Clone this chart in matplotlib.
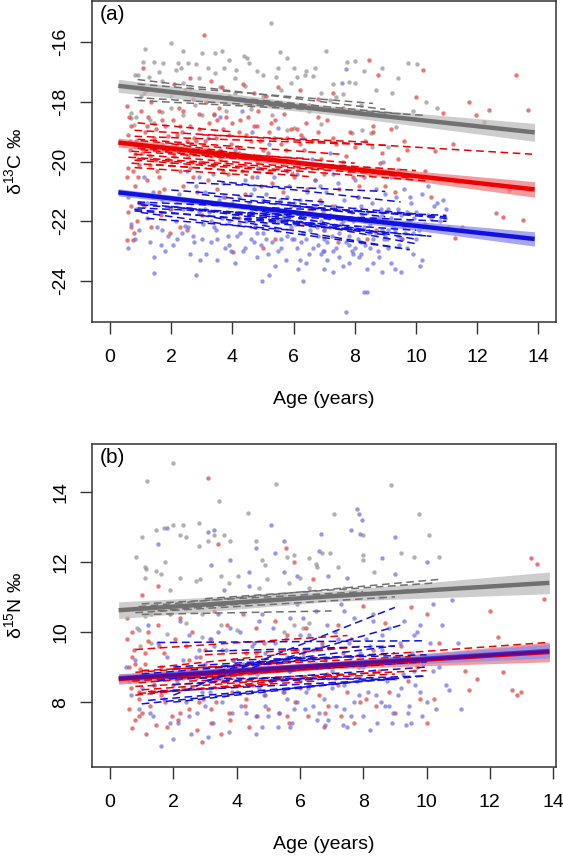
import numpy as np
import matplotlib
matplotlib.use("Agg")
import matplotlib.pyplot as plt

plt.rcParams['font.family'] = ['Liberation Sans', 'DejaVu Sans']
plt.rcParams['mathtext.fontset'] = 'custom'
plt.rcParams['mathtext.rm'] = 'Liberation Sans'
plt.rcParams['mathtext.it'] = 'Liberation Sans'
plt.rcParams['axes.unicode_minus'] = False

# ---------------- Panel (a): delta13C ----------------
gray_a = [(5.25,-15.36),(1.99,-16.03),(1.15,-16.23),(2.38,-16.29),(3.02,-16.35),(3.66,-16.29),(3.43,-16.37),
          (4.37,-16.46),(4.48,-16.54),(5.54,-16.34),(5.77,-16.54),(7.06,-16.29),(1.09,-16.65),(1.44,-16.65),
          (1.73,-16.68),(2.22,-16.70),(2.55,-16.68),(2.82,-16.73),(3.2,-16.87),(3.72,-16.85),(4.13,-16.93),
          (4.54,-16.70),(5.48,-16.87),(6.42,-16.98),(6.71,-16.85),(7.76,-16.65),(8.0,-16.63),(8.29,-16.98),
          (8.88,-16.87),(9.75,-16.70),(10.05,-16.73),(0.91,-17.09),(0.8,-17.09),(1.26,-17.15),(2.14,-16.93),
          (2.32,-16.87),(3.43,-17.04),(4.07,-17.21),(5.01,-17.09),(5.42,-17.15),(6.12,-17.15),(6.36,-17.09),
          (6.65,-17.13),(7.82,-17.32),(8.0,-17.37),(9.23,-17.71),(10.34,-17.99),(0.68,-18.38),(0.68,-18.55),
          (1.44,-18.7),(2.79,-18.1),(3.02,-18.44),(2.38,-18.44),(3.4,-18.45),(4.6,-18.05),(5.0,-17.85),
          (5.3,-18.45),(6.2,-18.2),(6.5,-18.3),(6.9,-18.2),(6.9,-18.75),(7.4,-17.85),(7.6,-17.75),(8.23,-18.94),
          (8.52,-19.05),(7.9,-19.05),(8.58,-19.5),(9.1,-19.5),(9.34,-18.83),(5.77,-18.94),(6.0,-18.88),
          (4.6,-18.25),(3.8,-18.3),(2.0,-18.2),(1.7,-18.35),(1.3,-18.6),(0.85,-18.5),(1.0,-17.8),(1.2,-17.6),
          (2.6,-17.55),(3.6,-17.5),(4.1,-17.7),(5.6,-17.6),(6.9,-17.7),(7.2,-17.95),(8.2,-18.1),(9.9,-18.3),
          (1.7,-17.3),(2.4,-17.35),(0.78,-18.77),
          (1.6,-17.0),(2.9,-17.2),(4.8,-16.95),(6.0,-16.85),(7.3,-17.4),(9.4,-17.2),(3.9,-16.6),(5.9,-17.35),
          (2.0,-17.8),(4.4,-17.45),(8.7,-17.6),(10.7,-18.2)]

red_a = [(0.55,-18.15),(0.62,-18.5),(0.7,-18.8),(0.58,-19.1),(0.85,-19.3),(0.66,-19.6),(0.9,-19.9),(0.6,-20.2),
         (0.75,-20.3),(0.55,-20.5),(0.82,-20.8),(0.68,-21.1),(0.95,-21.4),(0.6,-21.7),(0.88,-22.0),(0.7,-22.2),
         (0.78,-22.4),(0.56,-22.63),(0.74,-22.63),
         (1.09,-16.87),(1.12,-17.7),(1.35,-18.0),(1.6,-18.3),(1.25,-18.5),(1.8,-18.8),(1.15,-19.0),(1.45,-19.2),
         (1.7,-19.4),(1.05,-19.7),(1.9,-19.9),(1.3,-20.1),(1.55,-20.3),(1.2,-20.6),(1.75,-20.9),(1.4,-21.2),
         (1.1,-21.5),(1.65,-21.8),(1.35,-22.2),(1.95,-22.4),
         (2.1,-17.4),(2.45,-17.6),(2.7,-17.9),(2.25,-18.2),(2.9,-18.4),(2.05,-18.6),(2.6,-18.8),(2.35,-19.0),
         (2.8,-19.3),(2.15,-19.5),(2.55,-19.8),(2.95,-20.0),(2.3,-20.3),(2.7,-20.5),(2.4,-20.8),(2.85,-21.0),
         (2.2,-21.3),(2.65,-21.6),(2.3,-22.2),(2.5,-22.3),
         (3.08,-15.75),(3.3,-17.3),(3.65,-17.5),(3.9,-17.8),(3.15,-18.0),(3.55,-18.2),(3.8,-18.5),(3.25,-18.7),
         (3.7,-18.9),(3.45,-19.2),(3.95,-19.4),(3.1,-19.6),(3.6,-19.9),(3.35,-20.1),(3.85,-20.4),(3.2,-20.6),
         (3.5,-20.9),(3.75,-21.2),(4.02,-23.02),
         (4.35,-17.4),(4.1,-17.9),(4.6,-18.1),(4.85,-18.3),(4.25,-18.6),(4.7,-18.8),(4.45,-19.1),(4.9,-19.3),
         (4.15,-19.5),(4.55,-19.8),(4.8,-20.0),(4.3,-20.3),(4.65,-20.5),(4.95,-20.8),(4.4,-21.1),(4.75,-22.2),
         (5.0,-22.9),
         (5.1,-17.8),(5.45,-18.0),(5.7,-18.4),(5.25,-18.7),(5.9,-18.9),(5.35,-19.2),(5.6,-19.4),(5.15,-19.7),
         (5.8,-19.9),(5.5,-20.2),(5.95,-20.4),(5.3,-20.7),(5.65,-21.0),(5.85,-21.4),(5.4,-22.6),
         (6.2,-17.6),(6.5,-18.1),(6.8,-18.5),(6.1,-18.9),(6.6,-19.3),(6.35,-19.6),(6.9,-19.9),(6.15,-20.2),
         (6.7,-20.6),(6.45,-20.9),(6.85,-21.3),(6.3,-22.1),
         (7.3,-17.7),(7.6,-18.2),(7.1,-18.6),(7.85,-19.0),(7.4,-19.4),(7.7,-19.8),(7.2,-20.2),(7.95,-20.5),
         (7.5,-20.9),(7.25,-21.5),(7.45,-22.7),
         (8.47,-16.59),(8.76,-17.09),(8.2,-18.3),(8.6,-18.8),(8.35,-19.3),(8.9,-19.7),(8.82,-20.06),(8.5,-20.4),
         (8.15,-20.8),(8.7,-22.3),
         (9.99,-17.82),(9.2,-18.9),(9.6,-19.3),(9.4,-19.9),(9.4,-20.28),(9.8,-20.5),(9.3,-21.0),(9.55,-22.6),
         (10.22,-16.93),(10.87,-18.38),(10.63,-19.66),(10.3,-20.3),(10.5,-21.2),
         (11.74,-17.99),(11.98,-18.44),(12.39,-18.27),(12.21,-18.66),(13.68,-18.27),(13.27,-17.09),
         (13.03,-20.95),(12.62,-21.73),(12.86,-21.84),(13.5,-21.96),(11.28,-22.57),(11.51,-22.18),(11.2,-19.4),
         (1.5,-18.9),(1.85,-19.6),(2.2,-19.1),(2.75,-19.2),(3.4,-18.4),(3.0,-19.7),(1.3,-19.8),(2.4,-18.3),
         (3.7,-20.3),(4.2,-19.0),(1.0,-18.3),(2.0,-20.0),(4.5,-18.5),(5.2,-19.0),(5.75,-19.6),(6.25,-19.1),
         (2.6,-20.2),(1.6,-20.5),(3.9,-19.1),(0.9,-20.5),
         (0.65,-19.3),(0.8,-19.75),(0.95,-20.1),(1.2,-18.8),(1.4,-19.5),(1.5,-19.95),(1.7,-18.6),(1.9,-19.15),
         (2.1,-19.8),(2.3,-18.8),(2.5,-19.3),(2.7,-20.0),(2.9,-18.9),(3.1,-19.3),(3.3,-19.8),(3.5,-18.6),
         (3.6,-19.6),(3.8,-20.0),(4.0,-18.7),(4.2,-19.7),(4.4,-20.1),(4.6,-19.3),(4.8,-18.8),(5.0,-19.6),
         (5.2,-20.3),(5.4,-18.6),(5.6,-20.0),(5.8,-19.2),(6.0,-20.5),(6.2,-19.4),(6.4,-18.7),(6.6,-20.2),
         (6.8,-19.0),(7.0,-20.4),(7.3,-19.2),(7.6,-20.0),(8.0,-19.5),(8.3,-20.2),(8.6,-19.0),(9.0,-20.8),
         (9.7,-19.6),(2.0,-21.6),(3.0,-21.8),(4.2,-21.9),(5.5,-21.7),(6.5,-21.6),(7.0,-22.3),(8.1,-21.2),
         (1.0,-17.5),(2.6,-17.2),(4.7,-17.7),(5.5,-17.5),(6.8,-17.9),(1.6,-21.0),(0.7,-21.5),(8.4,-22.6)]

blue_a = [(0.6,-21.2),(0.85,-21.6),(0.7,-22.1),(0.95,-22.3),(0.6,-22.9),(0.8,-22.6),
          (1.1,-20.5),(1.4,-21.0),(1.7,-21.3),(1.2,-21.9),(1.55,-22.2),(1.9,-22.5),(1.3,-22.7),(1.65,-22.8),
          (1.8,-23.0),(1.45,-23.2),(1.44,-23.74),(1.95,-21.6),
          (2.1,-19.6),(2.5,-20.3),(2.8,-20.8),(2.25,-21.1),(2.65,-21.4),(2.9,-21.7),(2.15,-22.0),(2.55,-22.2),
          (2.35,-22.4),(2.75,-22.7),(2.05,-22.8),(2.6,-23.1),(2.95,-23.3),(2.82,-23.8),(2.45,-22.15),
          (3.6,-18.5),(3.2,-19.2),(3.8,-19.8),(3.35,-20.4),(3.7,-20.7),(3.1,-21.0),(3.55,-21.3),(3.9,-21.5),
          (3.25,-21.7),(3.65,-21.9),(3.05,-22.1),(3.45,-22.3),(3.85,-22.5),(3.3,-22.7),(3.75,-22.9),(3.15,-23.1),
          (3.5,-23.3),(3.95,-23.0),(3.4,-22.2),
          (4.3,-18.3),(4.65,-19.0),(4.1,-19.6),(4.85,-20.2),(4.4,-20.6),(4.7,-20.9),(4.2,-21.2),(4.55,-21.4),
          (4.9,-21.6),(4.05,-21.8),(4.45,-22.0),(4.75,-22.2),(4.25,-22.4),(4.6,-22.6),(4.95,-22.8),(4.35,-23.0),
          (4.8,-23.2),(4.15,-22.5),(4.5,-21.9),(4.7,-22.7),
          (5.48,-18.88),(5.2,-19.4),(5.7,-20.0),(5.35,-20.5),(5.85,-20.8),(5.1,-21.1),(5.55,-21.3),(5.9,-21.5),
          (5.25,-21.7),(5.65,-21.9),(5.05,-22.1),(5.45,-22.3),(5.8,-22.5),(5.3,-22.7),(5.6,-22.9),(5.15,-23.1),
          (5.75,-23.3),(5.4,-23.5),(4.98,-24.0),(5.95,-22.6),(5.5,-22.0),(5.2,-21.6),
          (6.3,-19.2),(6.6,-19.9),(6.1,-20.4),(6.85,-20.8),(6.45,-21.0),(6.2,-21.3),(6.7,-21.5),(6.95,-21.7),
          (6.35,-21.9),(6.05,-22.1),(6.55,-22.3),(6.8,-22.5),(6.25,-22.7),(6.65,-22.9),(6.9,-23.1),(6.4,-23.4),
          (6.15,-23.6),(6.3,-24.0),(6.75,-22.2),(6.5,-21.8),(6.0,-22.6),(6.95,-23.0),
          (7.59,-17.37),(7.7,-16.9),(7.2,-19.7),(7.8,-20.3),(7.45,-20.7),(7.05,-21.0),(7.65,-21.3),(7.35,-21.5),
          (7.9,-21.7),(7.15,-21.9),(7.55,-22.1),(7.85,-22.3),(7.25,-22.5),(7.7,-22.7),(7.4,-22.9),(7.95,-23.1),
          (7.1,-23.3),(7.6,-23.5),(7.3,-23.7),(7.72,-25.03),(7.5,-22.4),(7.8,-22.8),(7.0,-23.0),
          (8.93,-20.0),(8.3,-20.5),(8.7,-20.9),(8.1,-21.2),(8.55,-21.4),(8.85,-21.6),(8.25,-21.8),(8.65,-22.0),
          (8.05,-22.2),(8.45,-22.4),(8.95,-22.6),(8.35,-22.8),(8.75,-23.0),(8.15,-23.2),(8.6,-23.4),(8.9,-23.7),
          (8.3,-24.36),(8.4,-24.36),(8.5,-22.1),(8.2,-22.7),(8.8,-21.9),
          (9.2,-20.5),(9.6,-20.9),(9.35,-21.2),(9.85,-21.4),(9.1,-21.6),(9.5,-21.8),(9.75,-22.0),(9.25,-22.2),
          (9.65,-22.4),(9.05,-22.6),(9.45,-22.8),(9.9,-23.1),(9.3,-23.6),(9.55,-22.1),(9.95,-21.9),
          (10.2,-21.1),(10.6,-21.5),(10.4,-21.8),(10.8,-22.0),(10.1,-22.3),(10.2,-23.3),(10.15,-23.5),
          (11.0,-21.6),(10.95,-21.9),(11.05,-22.2),
          (4.6,-21.1),(5.8,-21.2),(6.6,-22.0),(7.5,-21.6),(8.2,-21.5),(8.9,-22.3),(9.4,-22.5),(5.0,-22.4),
          (7.2,-22.2),(7.95,-22.0),(6.3,-22.4),(8.6,-22.6),(9.7,-21.7),(3.9,-22.0),(5.6,-22.6),(7.0,-22.6),
          (8.0,-22.9),(9.1,-22.3),(6.9,-22.0),(4.4,-21.5),
          (3.1,-21.6),(3.3,-22.0),(3.5,-22.6),(3.7,-21.2),(3.9,-22.8),(4.0,-21.4),(4.2,-22.1),(4.4,-22.9),
          (4.6,-21.7),(4.8,-22.4),(5.0,-21.3),(5.1,-22.6),(5.3,-22.0),(5.5,-23.0),(5.7,-21.8),(5.9,-22.2),
          (6.0,-21.4),(6.1,-22.9),(6.2,-21.9),(6.4,-22.6),(6.5,-23.1),(6.6,-21.6),(6.8,-22.8),(6.9,-21.4),
          (7.0,-22.3),(7.1,-22.7),(7.2,-21.8),(7.3,-23.0),(7.4,-22.2),(7.5,-23.2),(7.6,-22.0),(7.7,-21.9),
          (7.8,-22.5),(7.9,-23.0),(8.0,-21.6),(8.1,-22.6),(8.2,-23.1),(8.3,-22.2),(8.4,-21.7),(8.5,-22.9),
          (8.6,-21.9),(8.7,-22.4),(8.8,-23.2),(8.9,-21.8),(9.0,-22.5),(9.1,-22.9),(9.2,-21.9),(9.3,-22.3),
          (9.4,-21.6),(9.5,-22.6),(9.6,-22.2),(9.7,-22.9),(9.8,-22.0),(9.9,-22.4),(10.0,-21.7),(10.0,-22.6),
          (10.3,-22.1),(10.5,-21.9),(10.7,-21.4),(10.9,-21.3),(5.2,-23.8),(6.2,-23.3),(7.0,-23.6),(7.8,-23.4),
          (8.4,-23.6),(9.2,-23.4),(9.5,-23.7),(4.1,-23.4),(3.0,-22.6),(2.7,-22.5),(2.2,-22.6),(1.7,-22.3),
          (2.4,-21.6),(1.2,-21.4),(2.9,-20.5),(3.4,-20.1),(4.8,-20.5),(5.8,-20.3),(6.7,-20.6),(7.3,-20.4),
          (8.0,-20.6),(8.4,-20.2),(9.0,-21.1),(9.8,-21.2),(10.4,-20.8)]

# individual (dashed) fits: (x0, y0, x1, y1)
dash_gray_a = [(0.9,-17.25,9.0,-18.25),(0.9,-17.4,8.6,-18.05),(0.8,-17.85,10.3,-18.45),
               (0.9,-17.95,6.5,-18.25),(1.0,-17.6,7.0,-18.15),(3.0,-17.75,9.5,-18.4)]
dash_red_a = [(0.8,-18.95,13.8,-19.75),(0.8,-19.15,9.0,-19.45),(0.9,-19.25,7.5,-19.75),(0.7,-19.45,8.0,-20.05),
              (0.9,-19.55,6.5,-19.9),(0.7,-19.65,10.0,-20.3),(0.8,-19.75,7.0,-20.25),(0.6,-19.85,9.5,-20.45),
              (0.8,-19.95,6.0,-20.35),(0.7,-20.05,5.5,-20.4),(1.0,-19.3,4.5,-19.6),(2.0,-19.4,9.8,-20.55),
              (0.9,-19.9,10.4,-20.65),(1.5,-20.1,6.5,-20.5),(0.7,-19.4,4.0,-19.7),(1.0,-19.6,5.0,-19.95),
              (3.0,-19.1,8.5,-19.35),(0.8,-20.2,4.5,-20.45),(0.9,-18.7,4.0,-19.0)]
dash_blue_a = [(0.9,-21.35,11.0,-21.8),(0.9,-21.55,11.0,-22.0),(0.8,-21.65,10.0,-22.3),(1.0,-21.45,9.5,-22.1),
               (0.8,-21.6,10.5,-22.5),(2.0,-21.25,10.0,-22.2),(2.5,-20.7,9.0,-21.0),(3.5,-20.65,9.5,-21.35),
               (1.0,-21.7,9.5,-22.9),(2.0,-21.5,9.0,-22.45),(3.0,-21.3,10.0,-22.6),(1.5,-21.15,8.0,-21.9),
               (4.0,-21.5,10.5,-22.2),(3.0,-21.8,9.8,-22.95),(2.5,-21.55,8.5,-22.3),(4.0,-21.3,11.0,-21.9),
               (5.0,-21.3,10.0,-21.75),(0.9,-21.4,6.0,-21.9),(3.0,-21.1,9.0,-21.85),(1.2,-21.9,6.0,-22.3),
               (5.0,-21.8,10.0,-22.75),(2.0,-20.95,7.0,-21.35),(6.0,-21.5,11.0,-21.85),(4.5,-22.0,10.5,-22.5)]

# population fits: x, fitted values, band half-widths at those x
fit_x = [0.27, 7.0, 13.88]
fit_gray_a = [-17.46, -18.26, -19.02]
band_gray_a = [0.22, 0.14, 0.30]
fit_red_a = [-19.36, -20.14, -20.93]
band_red_a = [0.15, 0.10, 0.26]
fit_blue_a = [-21.03, -21.81, -22.59]
band_blue_a = [0.12, 0.08, 0.24]

# ---------------- Panel (b): delta15N ----------------
gray_b = [(2.0,14.83),(1.17,14.31),(5.23,14.21),(8.88,14.2),(3.44,13.73),(4.35,13.4),(7.07,13.37),(9.76,13.37),
          (10.07,12.76),(0.81,12.14),(1.44,12.9),(1.0,12.7),(1.7,12.95),(2.0,13.05),(2.3,13.05),(2.8,13.1),
          (2.2,12.75),(2.4,12.7),(2.8,12.45),(3.1,12.6),(3.3,12.75),(3.6,12.75),(3.8,12.6),(4.6,12.6),(4.8,12.05),
          (4.9,11.9),(5.6,12.15),(5.8,12.2),(6.3,12.1),(6.5,11.95),(6.7,12.25),(6.95,12.25),(7.2,11.85),(8.0,12.75),
          (8.0,12.2),(8.0,12.05),(8.35,11.7),(9.2,12.25),(9.6,12.15),(10.4,12.15),
          (1.1,11.85),(1.15,11.8),(1.1,11.55),(1.45,11.75),(1.6,11.65),(1.75,12.0),(1.9,11.2),(2.7,11.45),
          (2.85,11.5),(2.2,11.55),(3.5,11.6),(3.75,11.4),(4.05,11.6),(4.7,11.25),(4.95,11.5),(5.5,11.05),
          (5.65,11.4),(6.0,11.55),(6.3,11.25),(6.55,11.85),(7.4,11.25),
          (0.85,10.1),(0.9,10.05),(1.1,10.45),(1.8,9.95),(2.4,10.25),(2.9,10.5),(2.9,9.85),(3.5,10.2),(4.0,10.05),
          (5.5,10.0),(5.8,10.2),(6.1,10.1),(6.3,10.25),(1.3,9.7),(0.95,9.6),(4.5,10.9),(7.8,11.1),(8.6,11.0)]

red_b = [(0.55,9.8),(0.7,9.3),(0.6,9.0),(0.85,8.7),(0.65,8.4),(0.9,8.1),(0.6,7.8),(0.8,7.5),(0.7,7.25),
         (0.95,8.95),(0.75,9.5),(0.9,7.6),
         (1.0,11.05),(1.3,10.5),(1.5,10.2),(1.2,9.75),(1.7,9.4),(1.1,9.1),(1.85,8.8),(1.4,8.5),(1.6,8.2),
         (1.25,7.9),(1.95,7.6),(1.45,7.35),(1.15,7.1),(1.75,8.0),(1.55,9.6),
         (2.2,10.4),(2.6,10.0),(2.4,9.6),(2.85,9.3),(2.1,9.0),(2.7,8.7),(2.3,8.4),(2.95,8.1),(2.5,7.8),
         (2.15,7.5),(2.75,7.2),(2.9,6.85),(2.45,8.9),(2.05,9.8),
         (3.1,14.4),(3.4,12.5),(3.3,10.6),(3.7,10.2),(3.15,9.8),(3.55,9.5),(3.9,9.2),(3.25,8.9),(3.6,8.6),
         (3.85,8.3),(3.35,8.0),(3.75,7.7),(3.2,7.4),(3.5,7.1),
         (4.2,10.5),(4.6,10.1),(4.85,9.7),(4.3,9.4),(4.7,9.1),(4.1,8.8),(4.5,8.5),(4.9,8.2),(4.25,7.9),
         (4.65,7.6),(4.4,7.3),(4.8,8.6),
         (5.55,12.4),(5.8,12.0),(5.2,10.3),(5.6,9.9),(5.9,9.5),(5.3,9.2),(5.7,8.9),(5.1,8.6),(5.5,8.3),
         (5.85,8.0),(5.35,7.7),(5.65,7.4),
         (6.4,11.5),(6.2,10.1),(6.7,9.7),(6.1,9.4),(6.5,9.1),(6.85,8.8),(6.3,8.5),(6.6,8.2),(6.9,7.9),
         (6.25,7.6),(6.75,7.3),
         (7.2,10.2),(7.6,9.8),(7.35,9.4),(7.85,9.0),(7.1,8.7),(7.5,8.3),(7.9,8.0),(7.3,7.6),(7.7,7.4),
         (8.0,10.75),(8.7,10.25),(8.3,9.5),(8.6,9.1),(8.2,8.7),(8.8,8.3),(8.4,7.9),
         (9.5,10.7),(10.0,10.5),(9.2,9.6),(9.7,9.0),(9.4,8.6),(9.8,8.1),(10.0,7.4),
         (13.3,12.1),(13.5,11.95),(13.7,10.95),(12.0,10.6),(12.25,9.85),(12.4,8.85),(12.7,8.35),(12.85,8.2),
         (13.0,8.3),(11.35,8.35),(11.6,8.65),(11.2,8.9),(10.4,9.7),(10.25,8.1),(0.55,10.4),
         (0.6,8.6),(0.8,9.1),(1.0,7.7),(1.3,8.3),(1.6,9.0),(1.8,7.3),(2.0,8.5),(2.2,7.7),(2.5,9.2),(2.8,8.0),
         (3.0,9.5),(3.2,7.8),(3.5,8.8),(3.8,7.5),(4.0,9.0),(4.3,8.1),(4.6,9.4),(5.0,7.8),(5.3,8.7),(5.6,7.6),
         (6.0,8.4),(6.4,9.3),(6.8,7.7),(7.2,8.5),(7.6,9.1),(8.1,8.1),(8.5,8.9),(9.0,7.7),(9.3,9.2),(1.2,10.0),
         (1.9,10.5),(2.9,10.8),(0.7,10.0),(1.5,11.3),(1.1,9.4),(0.9,8.3)]

blue_b = [(0.5,9.0),(0.8,8.6),(0.65,8.2),(0.9,7.8),
          (1.2,10.2),(1.5,9.7),(1.8,9.3),(1.1,8.9),(1.4,8.5),(1.7,8.1),(1.25,7.7),(1.9,7.4),(1.6,6.75),(1.35,7.6),
          (2.2,10.3),(2.5,9.9),(2.8,9.5),(2.3,9.2),(2.65,8.9),(2.1,8.6),(2.9,8.3),(2.4,8.0),(2.75,7.7),(2.15,7.4),
          (2.0,6.95),(2.55,7.1),(1.8,12.95),(1.5,12.5),
          (3.3,12.9),(3.1,12.85),(3.6,11.2),(3.4,10.5),(3.8,10.1),(3.2,9.8),(3.65,9.5),(3.9,9.2),(3.35,8.9),
          (3.7,8.6),(3.15,8.3),(3.55,8.0),(3.85,7.7),(3.25,7.4),(3.75,7.15),
          (3.8,12.05),(4.4,11.7),(4.3,10.8),(4.7,10.3),(4.1,10.0),(4.55,9.7),(4.9,9.4),(4.2,9.1),(4.65,8.8),
          (4.35,8.5),(4.85,8.2),(4.15,7.9),(4.6,7.6),(4.8,7.3),(4.6,12.4),
          (5.1,13.05),(5.2,12.25),(5.5,11.7),(5.9,11.6),(5.3,10.9),(5.7,10.4),(5.15,10.1),(5.55,9.8),(5.85,9.5),
          (5.25,9.2),(5.65,8.9),(5.05,8.6),(5.45,8.3),(5.9,8.0),(5.35,7.7),(5.75,7.4),(5.7,7.3),
          (6.65,12.8),(6.6,12.3),(6.2,11.1),(6.5,10.6),(6.85,10.2),(6.3,9.9),(6.7,9.6),(6.1,9.3),(6.45,9.0),
          (6.9,8.7),(6.25,8.4),(6.75,8.1),(6.15,7.8),(6.55,7.5),(6.8,7.35),
          (7.8,13.5),(7.85,13.35),(7.95,13.2),(7.9,12.8),(7.5,11.55),(7.3,10.8),(7.7,10.4),(7.1,10.0),(7.55,9.7),
          (7.9,9.4),(7.2,9.1),(7.65,8.8),(7.4,8.5),(7.85,8.2),(7.15,7.9),(7.6,7.6),(7.35,7.35),(8.2,7.2),
          (8.5,11.0),(8.3,10.5),(8.8,10.1),(8.1,9.8),(8.6,9.5),(8.9,9.2),(8.35,8.9),(8.75,8.6),(8.15,8.3),
          (8.55,8.0),(8.95,7.7),(8.45,7.4),
          (9.0,12.7),(9.0,11.65),(10.0,12.0),(9.3,10.3),(9.7,10.0),(9.15,9.7),(9.55,9.4),(9.9,9.1),(9.25,8.8),
          (9.65,8.5),(9.1,8.2),(9.45,7.9),(9.85,7.6),(9.35,7.35),
          (10.2,10.8),(10.5,10.2),(10.1,9.7),(10.4,9.0),(10.6,8.5),(10.7,8.35),(10.3,7.8),
          (11.0,9.7),(11.1,7.8),(10.8,10.9),
          (2.6,8.4),(3.0,9.1),(4.0,8.3),(5.0,9.0),(6.0,8.6),(7.0,8.9),(8.0,9.0),(9.0,8.7),(9.6,8.9),(4.9,7.9),
          (6.4,7.9),(8.7,7.9),(3.5,8.7),(7.7,8.0),(5.6,8.1),
          (2.3,8.7),(2.7,9.3),(3.0,7.9),(3.3,9.6),(3.6,8.2),(3.9,9.0),(4.1,8.6),(4.3,7.7),(4.5,9.6),(4.7,8.4),
          (5.0,7.6),(5.2,9.7),(5.4,8.7),(5.6,9.3),(5.8,7.8),(6.0,9.9),(6.2,8.3),(6.4,9.5),(6.6,7.7),(6.8,9.2),
          (7.0,8.4),(7.2,9.8),(7.4,7.8),(7.6,9.3),(7.8,8.6),(8.0,7.6),(8.2,9.6),(8.4,8.2),(8.6,9.9),(8.8,7.9),
          (9.0,9.3),(9.2,8.4),(9.4,7.7),(9.6,9.9),(9.8,8.3),(10.0,9.2),(10.0,8.0),(10.2,8.9),(9.5,7.4),(8.9,7.4),
          (7.5,7.3),(6.9,7.5),(5.3,7.3),(4.6,7.1),(3.1,7.0),(2.5,7.6),(1.3,8.3),(1.0,8.4),(0.8,9.2),(3.4,10.0),
          (4.8,10.5),(6.1,10.4),(7.4,10.6),(8.3,10.3),(9.8,10.2),(10.6,9.3),(5.9,10.8),(4.4,11.3),(6.9,11.6),
          (8.6,12.1),(3.2,11.9),(5.5,12.6),(7.6,12.9)]

dash_gray_b = [(0.9,10.72,10.4,11.5),(1.0,10.8,8.0,11.15),(0.8,10.55,9.0,11.0),(1.0,10.5,7.0,10.6),
               (3.0,10.95,10.3,11.4),(1.5,10.6,9.5,11.2)]
dash_red_b = [(0.8,9.5,7.5,9.9),(0.8,8.85,13.8,9.7),(0.7,8.6,10.0,9.15),(0.8,8.45,9.0,8.8),(0.9,8.25,5.0,8.5),
              (0.8,8.2,7.0,8.75),(1.0,8.7,6.0,8.9),(1.5,9.0,8.0,9.6),(2.0,8.95,9.5,9.3),(0.7,8.65,4.0,8.75),
              (1.0,8.35,8.5,8.85),(2.5,8.6,10.0,8.9),(1.0,8.9,5.5,9.1),(3.0,9.35,7.5,9.55),(0.9,8.55,12.0,9.35),
              (1.2,8.3,6.5,8.6)]
dash_blue_b = [(1.5,9.7,10.0,9.75),(2.0,8.2,9.0,10.7),(3.0,8.6,9.2,10.2),(1.0,7.95,9.0,8.7),(1.2,8.05,10.0,8.75),
               (1.5,8.3,9.0,8.65),(3.0,9.45,9.0,9.6),(2.0,9.0,9.0,9.4),(4.0,9.2,10.0,9.35),(0.9,8.7,9.0,8.65),
               (2.0,8.5,10.0,9.0),(1.0,8.8,7.0,9.25),(3.5,9.0,9.0,9.6),(2.5,8.75,10.0,9.15),(4.0,8.9,8.5,9.05),
               (5.0,8.6,10.0,8.75),(1.5,8.6,6.0,9.3),(2.0,8.0,7.5,8.55)]

fit_gray_b = [10.62, 11.02, 11.40]
band_gray_b = [0.24, 0.15, 0.31]
fit_red_b = [8.66, 9.05, 9.43]
band_red_b = [0.15, 0.10, 0.28]
fit_blue_b = [8.68, 9.07, 9.46]
band_blue_b = [0.12, 0.08, 0.20]

x_ticks = [0, 2, 4, 6, 8, 10, 12, 14]
y_ticks_a = [-24, -22, -20, -18, -16]
y_ticks_b = [8, 10, 12, 14]

PT_GRAY, PT_RED, PT_BLUE = '#8f8f8f', '#e03a3a', '#6a6ae6'
LN_GRAY, LN_RED, LN_BLUE = '#707070', '#ee0000', '#1010e0'
BD_GRAY, BD_RED, BD_BLUE = '#bdbdbd', '#f27a7a', '#8a8af0'


def draw(ax, pts, dashes, fits, bands, ylim, yticks, ylabel, tag, xlim, blue_alpha=1.0):
    for data, col in zip(pts, (PT_GRAY, PT_RED, PT_BLUE)):
        arr = np.array(data)
        ax.scatter(arr[:, 0], arr[:, 1], s=10, color=col, alpha=0.7, linewidths=0, zorder=1)
    fx = np.array(fit_x)
    for f, b, bc in zip(fits, bands, (BD_GRAY, BD_RED, BD_BLUE)):
        f = np.array(f); b = np.array(b)
        ax.fill_between(fx, f - b, f + b, color=bc, alpha=0.75, linewidth=0, zorder=2)
    for dl, col in zip(dashes, (LN_GRAY, LN_RED, LN_BLUE)):
        for x0, y0, x1, y1 in dl:
            ax.plot([x0, x1], [y0, y1], color=col, lw=1.1, ls=(0, (5, 3)), zorder=3)
    for i, (f, col) in enumerate(zip(fits, (LN_GRAY, LN_RED, LN_BLUE))):
        a = blue_alpha if i == 2 else 1.0
        ax.plot(fx, f, color=col, lw=3.2, alpha=a, solid_capstyle='butt', zorder=4)
    ax.set_xlim(*xlim)
    ax.set_ylim(*ylim)
    ax.set_xticks(x_ticks)
    ax.set_yticks(yticks)
    ax.tick_params(axis='both', length=8.5, width=1.0, color='#333333', labelsize=14)
    ax.tick_params(axis='x', pad=11)
    ax.tick_params(axis='y', pad=8, labelrotation=90)
    for lab in ax.get_yticklabels():
        lab.set_va('center')
    for sp in ax.spines.values():
        sp.set_color('#333333')
        sp.set_linewidth(1.1)
    ax.set_xlabel('Age (years)', fontsize=14, labelpad=18)
    ax.set_ylabel(ylabel, fontsize=14, labelpad=20)
    ax.text(0.015, 0.988, tag, transform=ax.transAxes, ha='left', va='top', fontsize=15)


fig = plt.figure(figsize=(5.63, 8.58), dpi=100)
ax1 = fig.add_axes([0.164, 0.6244, 0.823, 0.3744])
ax2 = fig.add_axes([0.164, 0.1064, 0.823, 0.3758])

draw(ax1, (gray_a, red_a, blue_a), (dash_gray_a, dash_red_a, dash_blue_a),
     (fit_gray_a, fit_red_a, fit_blue_a), (band_gray_a, band_red_a, band_blue_a),
     (-25.38, -14.62), y_ticks_a, r'$\mathrm{\delta^{13}C}$ ‰', '(a)', (-0.58, 14.57))
draw(ax2, (gray_b, red_b, blue_b), (dash_gray_b, dash_red_b, dash_blue_b),
     (fit_gray_b, fit_red_b, fit_blue_b), (band_gray_b, band_red_b, band_blue_b),
     (6.16, 15.35), y_ticks_b, r'$\mathrm{\delta^{15}N}$ ‰', '(b)', (-0.56, 14.08), blue_alpha=0.65)

fig.savefig('out.png', dpi=100)
